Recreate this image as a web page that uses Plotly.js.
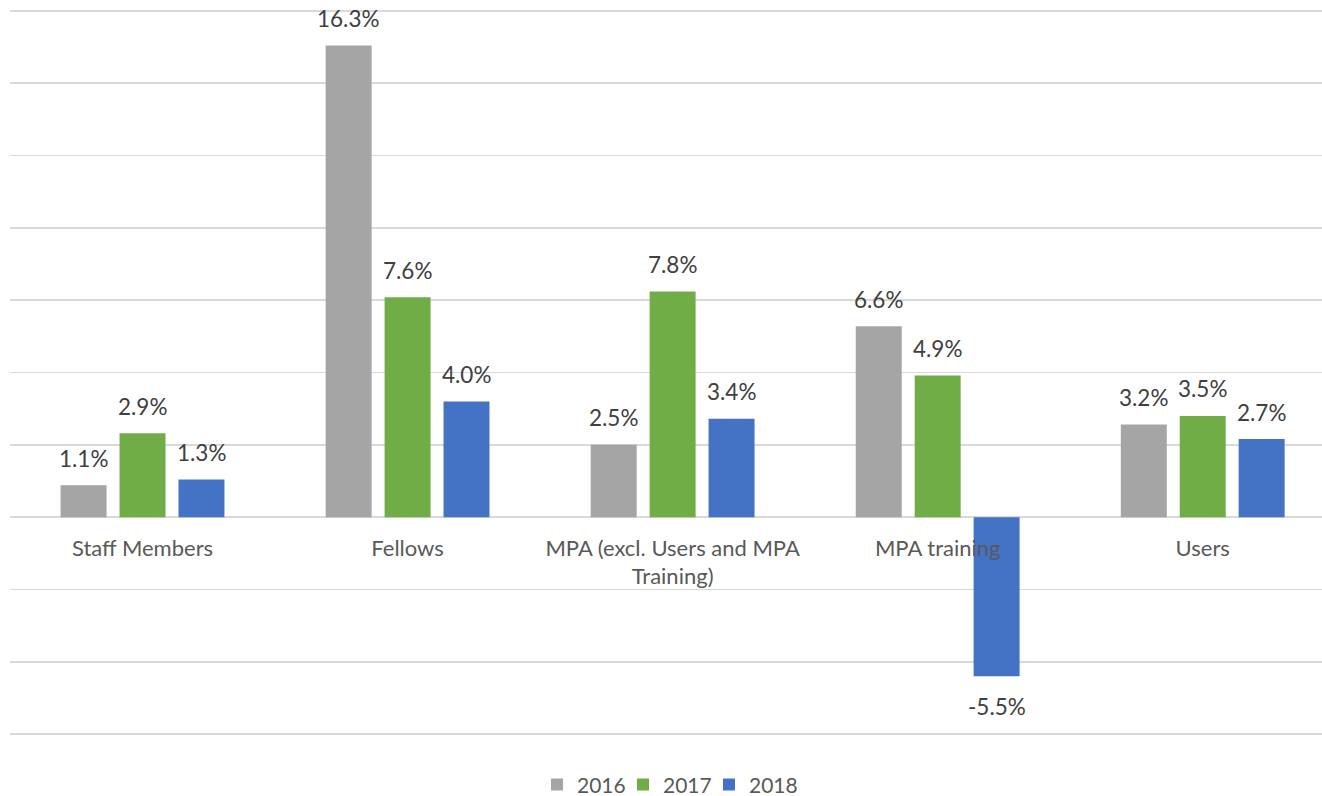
<!DOCTYPE html>
<html>
<head>
<meta charset="utf-8">
<script src="https://cdn.plot.ly/plotly-3.0.1.min.js"></script>
<style>html,body{margin:0;padding:0;background:#fff;}#chart{width:1322px;height:796px;}</style>
</head>
<body>
<div id="chart"></div>
<script>
var categories = ["Staff Members", "Fellows", "MPA (excl. Users and MPA<br>Training)", "MPA training", "Users"];
var seriesNames = ["2016", "2017", "2018"];
var values2016 = [1.1, 16.3, 2.5, 6.6, 3.2];
var values2017 = [2.9, 7.6, 7.8, 4.9, 3.5];
var values2018 = [1.3, 4.0, 3.4, -5.5, 2.7];
var colors = ["#A5A5A5", "#70AD47", "#4472C4"];

var allValues = [values2016, values2017, values2018];
var FONT = "Lato, 'Open Sans', sans-serif";
var bargap = 0.333, bargroupgap = 0.22;

var traces = allValues.map(function (vals, j) {
  return {
    type: "bar",
    name: seriesNames[j],
    x: categories,
    y: vals,
    marker: {color: colors[j], line: {width: 0}},
    hovertemplate: "%{x}: %{y:.1f}%<extra>" + seriesNames[j] + "</extra>"
  };
});
// invisible spacer entry so the last legend label is not clipped
traces.push({
  type: "scatter", mode: "markers", x: [null], y: [null], name: " ",
  marker: {color: "rgba(0,0,0,0)", size: 1}, hoverinfo: "skip", showlegend: true
});

var slot = (1 - bargap) / allValues.length;
var annotations = [];
allValues.forEach(function (vals, j) {
  vals.forEach(function (v, i) {
    annotations.push({
      x: i + (j - (allValues.length - 1) / 2) * slot,
      y: v,
      xref: "x", yref: "y",
      text: v.toFixed(1) + "%",
      showarrow: false,
      yanchor: "middle",
      yshift: v >= 0 ? 27 : -30,
      font: {family: FONT, size: 22.5, color: "#404040"}
    });
  });
});

var yMin = -7.6, yMax = 17.6;
var layout = {
  width: 1322, height: 796,
  margin: {l: 10, r: 0, t: 8, b: 59, autoexpand: false},
  paper_bgcolor: "#fff", plot_bgcolor: "#fff",
  barmode: "group",
  bargap: bargap,
  bargroupgap: bargroupgap,
  showlegend: true,
  legend: {
    orientation: "h", x: 0.5 + 43 / 1312, xanchor: "center", y: -0.0658, yanchor: "middle",
    font: {family: FONT, size: 21, color: "#595959"},
    bgcolor: "rgba(0,0,0,0)",
    itemwidth: 30, traceorder: "normal",
    entrywidth: 41, entrywidthmode: "pixels"
  },
  xaxis: {
    type: "category",
    range: [-0.5, 4.45],
    anchor: "free", position: (0 - yMin) / (yMax - yMin),
    showgrid: false, zeroline: false, showline: false,
    ticks: "outside", ticklen: 11, tickcolor: "rgba(0,0,0,0)",
    tickfont: {family: FONT, size: 22, color: "#595959"},
    layer: "above traces",
    fixedrange: true
  },
  yaxis: {
    range: [yMin, yMax],
    dtick: 2.5, tick0: 0,
    showgrid: true, gridcolor: "#D9D9D9", gridwidth: 1.5,
    zeroline: true, zerolinecolor: "#D9D9D9", zerolinewidth: 1.5,
    showticklabels: false, ticks: "",
    fixedrange: true
  },
  annotations: annotations,
  font: {family: FONT}
};

Plotly.newPlot("chart", traces, layout, {displayModeBar: false, staticPlot: true});
</script>
</body>
</html>
